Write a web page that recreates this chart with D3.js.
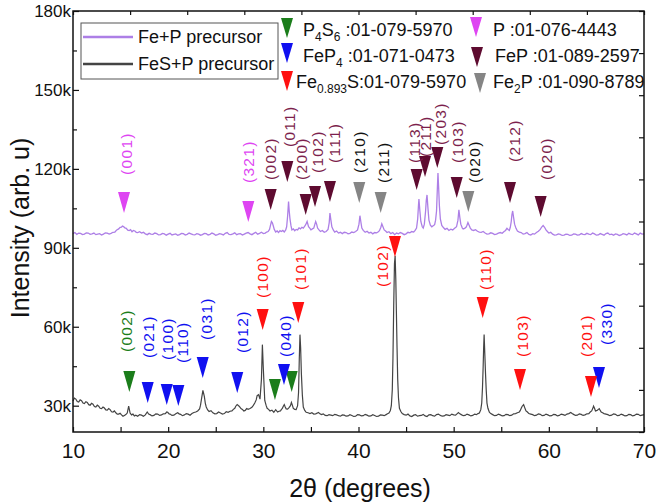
<!DOCTYPE html>
<html>
<head>
<meta charset="utf-8">
<script src="https://cdn.jsdelivr.net/npm/d3@7/dist/d3.min.js"></script>
<style>
  body { margin: 0; background: #fff; }
</style>
</head>
<body>
<div id="chart"></div>
<script>
// XRD patterns, 2theta (deg) vs intensity (in thousands of counts)
const fePCurve = [
  [10.0,95.4],[10.2,95.8],[10.4,95.1],[10.6,95.6],[10.8,95.5],[11.0,95.0],[11.2,95.2],[11.4,95.7],
  [11.6,95.6],[11.8,95.1],[12.0,95.3],[12.2,95.6],[12.4,95.0],[12.6,95.2],[12.8,95.4],[13.0,94.9],
  [13.2,95.2],[13.4,95.7],[13.6,95.6],[13.8,95.2],[14.0,95.5],[14.2,95.9],[14.4,96.0],[14.6,96.8],
  [14.8,97.2],[14.95,97.8],[15.1,97.9],[15.2,98.3],[15.3,98.1],[15.45,97.6],[15.6,97.4],[15.75,96.7],
  [15.9,96.6],[16.05,96.9],[16.2,96.1],[16.35,96.6],[16.5,96.4],[16.65,95.9],[16.8,95.8],[17.0,96.1],
  [17.2,95.6],[17.4,95.9],[17.6,95.3],[17.8,95.0],[18.0,95.5],[18.2,95.2],[18.4,95.1],[18.6,95.6],
  [18.8,95.4],[19.0,94.9],[19.2,95.0],[19.4,95.5],[19.6,95.3],[19.8,94.8],[20.0,95.2],[20.2,95.5],
  [20.4,94.9],[20.6,95.1],[20.8,95.3],[21.0,94.8],[21.2,95.0],[21.4,95.5],[21.6,95.4],[21.8,94.9],
  [22.0,95.1],[22.2,95.6],[22.4,95.3],[22.6,95.0],[22.8,94.9],[23.0,95.4],[23.2,95.2],[23.4,94.8],
  [23.6,95.0],[23.8,95.5],[24.0,95.4],[24.2,94.9],[24.4,95.1],[24.6,95.6],[24.8,95.3],[25.0,94.8],
  [25.2,95.0],[25.4,95.4],[25.6,95.2],[25.8,94.9],[26.0,95.5],[26.2,95.8],[26.4,95.1],[26.6,95.0],
  [26.8,95.3],[27.0,95.7],[27.2,95.0],[27.4,95.3],[27.6,95.4],[27.8,94.9],[28.0,95.2],[28.2,95.6],
  [28.4,95.8],[28.6,95.3],[28.8,95.0],[29.0,95.5],[29.2,95.9],[29.4,95.2],[29.6,95.5],[29.8,95.9],
  [30.0,95.4],[30.2,95.6],[30.35,96.0],[30.5,96.2],[30.65,97.0],[30.75,98.5],[30.85,100.0],[30.95,99.5],
  [31.05,98.3],[31.15,97.0],[31.3,96.0],[31.45,96.4],[31.6,95.8],[31.75,96.5],[31.9,96.2],[32.05,96.6],
  [32.2,96.0],[32.35,96.8],[32.45,98.0],[32.55,102.0],[32.65,107.6],[32.72,104.0],[32.8,101.0],[32.9,98.5],
  [33.0,96.8],[33.15,97.2],[33.3,96.5],[33.45,97.0],[33.6,96.8],[33.75,97.6],[33.9,97.2],[34.05,97.8],
  [34.2,97.5],[34.35,98.2],[34.45,98.8],[34.6,100.0],[34.75,98.0],[34.9,97.4],[35.0,96.8],[35.15,97.2],
  [35.3,97.5],[35.42,99.0],[35.5,100.0],[35.6,99.0],[35.7,97.5],[35.85,96.8],[36.0,96.2],[36.2,96.6],
  [36.4,95.9],[36.6,96.2],[36.8,97.0],[36.92,99.5],[37.0,103.2],[37.1,100.5],[37.2,98.0],[37.35,96.8],
  [37.5,96.0],[37.7,96.4],[37.9,95.6],[38.1,95.9],[38.3,95.4],[38.5,95.9],[38.7,95.8],[38.9,95.3],
  [39.1,95.5],[39.3,96.0],[39.5,95.8],[39.7,96.2],[39.9,96.8],[40.05,99.0],[40.15,102.2],[40.25,99.8],
  [40.35,97.5],[40.5,96.6],[40.7,95.9],[40.9,96.3],[41.1,95.6],[41.3,95.9],[41.5,95.3],[41.7,95.8],
  [41.9,95.7],[42.05,96.0],[42.2,96.5],[42.35,97.8],[42.45,99.1],[42.55,98.2],[42.7,96.8],[42.85,96.4],
  [43.0,95.8],[43.2,96.1],[43.4,95.4],[43.6,95.8],[43.8,95.0],[44.0,95.6],[44.2,95.3],[44.4,95.8],
  [44.6,95.5],[44.8,95.0],[45.0,95.3],[45.2,95.9],[45.4,95.7],[45.6,96.2],[45.8,96.0],[45.95,96.6],
  [46.1,97.5],[46.22,101.0],[46.3,106.0],[46.35,108.5],[46.45,104.0],[46.55,100.0],[46.7,98.0],[46.8,97.5],
  [46.92,99.0],[47.05,104.0],[47.12,108.0],[47.2,110.1],[47.3,105.0],[47.4,100.5],[47.55,98.6],[47.7,98.0],
  [47.85,98.4],[48.0,98.8],[48.1,100.5],[48.2,104.0],[48.28,112.0],[48.35,118.4],[48.42,113.0],[48.5,106.0],
  [48.6,101.0],[48.75,98.5],[48.9,97.8],[49.1,97.0],[49.3,97.4],[49.5,96.6],[49.7,97.1],[49.9,96.8],
  [50.1,97.4],[50.3,98.0],[50.45,100.5],[50.55,104.4],[50.65,101.5],[50.75,99.0],[50.9,97.6],[51.0,97.2],
  [51.15,97.4],[51.3,97.8],[51.4,98.6],[51.5,99.6],[51.6,98.8],[51.75,97.5],[51.9,96.8],[52.1,96.6],
  [52.3,96.9],[52.5,96.3],[52.7,96.0],[52.9,95.9],[53.1,96.2],[53.3,95.6],[53.5,95.2],[53.7,95.3],
  [53.9,95.7],[54.1,95.5],[54.3,95.0],[54.5,95.2],[54.7,95.6],[54.9,95.8],[55.1,95.5],[55.3,96.2],
  [55.45,96.6],[55.6,97.4],[55.72,97.0],[55.85,96.6],[55.95,97.8],[56.05,100.0],[56.12,102.5],[56.2,104.0],
  [56.3,101.5],[56.4,99.0],[56.55,97.4],[56.7,96.4],[56.9,96.0],[57.1,95.8],[57.3,95.2],[57.5,95.4],
  [57.7,95.8],[57.9,95.1],[58.1,94.9],[58.3,95.4],[58.5,95.2],[58.7,95.8],[58.9,96.3],[59.1,97.0],
  [59.25,97.9],[59.4,98.5],[59.55,97.8],[59.7,96.8],[59.85,96.2],[60.0,95.6],[60.2,95.9],[60.4,95.2],
  [60.6,94.8],[60.8,94.9],[61.0,95.3],[61.2,95.1],[61.4,94.7],[61.6,94.8],[61.8,95.2],[62.0,95.1],
  [62.2,94.7],[62.4,94.8],[62.6,95.3],[62.8,95.2],[63.0,94.8],[63.2,94.9],[63.4,95.4],[63.6,95.1],
  [63.8,95.0],[64.0,95.5],[64.2,95.2],[64.4,95.0],[64.6,95.6],[64.8,95.3],[65.0,94.8],[65.2,94.9],
  [65.4,95.4],[65.6,95.1],[65.8,94.8],[66.0,95.4],[66.2,95.6],[66.4,95.0],[66.6,95.2],[66.8,94.8],
  [67.0,95.3],[67.2,95.1],[67.4,94.7],[67.6,94.9],[67.8,95.4],[68.0,95.2],[68.2,94.9],[68.4,95.5],
  [68.6,95.2],[68.8,95.0],[69.0,95.6],[69.2,95.3],[69.4,94.9],[69.6,95.6],[69.8,95.2],[70.0,95.3]
];

const fesPCurve = [
  [10.0,31.8],[10.15,32.9],[10.3,32.5],[10.45,31.6],[10.6,31.4],[10.75,32.2],[10.9,31.9],[11.05,31.0],
  [11.2,30.8],[11.35,31.5],[11.5,31.2],[11.65,30.4],[11.8,30.2],[11.95,30.9],[12.1,30.6],[12.25,29.7],
  [12.4,29.5],[12.55,30.2],[12.7,29.8],[12.85,29.0],[13.0,28.9],[13.15,29.5],[13.3,29.1],[13.45,28.4],
  [13.6,28.3],[13.75,28.9],[13.9,28.5],[14.05,27.7],[14.2,27.6],[14.35,28.0],[14.5,27.3],[14.65,26.8],
  [14.8,26.8],[14.95,27.1],[15.1,26.5],[15.25,26.0],[15.4,26.3],[15.55,26.6],[15.7,27.2],[15.85,29.8],
  [16.0,27.2],[16.15,26.5],[16.3,26.8],[16.45,26.1],[16.6,26.4],[16.8,26.0],[17.0,26.6],[17.2,26.4],
  [17.4,26.0],[17.6,26.5],[17.8,27.6],[17.95,26.8],[18.1,26.6],[18.3,26.1],[18.5,26.3],[18.7,26.9],
  [18.9,26.8],[19.1,26.3],[19.3,26.5],[19.5,26.9],[19.7,27.0],[19.85,27.6],[19.95,27.5],[20.1,26.9],
  [20.2,26.8],[20.4,26.3],[20.6,26.4],[20.8,26.9],[21.0,27.3],[21.15,26.9],[21.3,26.7],[21.5,26.2],
  [21.7,26.5],[21.9,27.0],[22.1,26.8],[22.3,26.4],[22.5,27.0],[22.7,27.4],[22.9,27.6],[23.1,28.0],
  [23.3,28.8],[23.4,30.2],[23.5,32.5],[23.65,35.8],[23.8,33.5],[23.9,31.0],[24.0,29.5],[24.15,28.4],
  [24.3,27.8],[24.5,28.1],[24.7,27.3],[24.9,26.9],[25.1,27.0],[25.3,27.6],[25.5,27.2],[25.7,26.8],
  [25.9,27.0],[26.1,27.7],[26.3,27.5],[26.5,27.9],[26.7,28.0],[26.85,28.6],[27.0,29.0],[27.1,29.8],
  [27.25,30.4],[27.4,30.0],[27.5,29.6],[27.65,28.9],[27.8,28.6],[27.95,28.0],[28.1,28.2],[28.25,28.9],
  [28.4,28.6],[28.6,28.9],[28.8,29.4],[28.95,30.1],[29.1,31.0],[29.25,32.2],[29.35,33.8],[29.5,34.2],
  [29.65,32.5],[29.8,40.0],[29.9,53.2],[30.0,44.0],[30.15,32.0],[30.3,30.0],[30.4,29.0],[30.55,28.6],
  [30.7,28.0],[30.9,28.3],[31.1,27.5],[31.3,28.5],[31.5,27.6],[31.65,27.9],[31.8,28.0],[31.9,28.6],
  [32.0,29.0],[32.1,29.8],[32.2,30.4],[32.3,29.5],[32.4,28.8],[32.55,28.7],[32.7,29.3],[32.85,30.0],
  [32.95,31.2],[33.05,30.2],[33.15,29.0],[33.3,28.6],[33.45,28.5],[33.6,30.0],[33.7,35.0],[33.78,48.0],
  [33.85,57.0],[33.92,52.0],[34.0,42.0],[34.1,34.0],[34.2,29.5],[34.35,28.2],[34.5,27.5],[34.7,27.3],
  [34.9,27.0],[35.1,27.3],[35.3,26.8],[35.5,26.9],[35.8,27.4],[35.95,26.9],[36.1,26.6],[36.3,26.9],
  [36.5,26.3],[36.7,26.2],[36.9,26.6],[37.1,26.4],[37.3,26.2],[37.5,26.7],[37.7,26.5],[37.9,26.2],
  [38.1,26.0],[38.3,26.5],[38.5,26.4],[38.7,26.0],[38.9,26.1],[39.1,26.6],[39.3,26.3],[39.5,25.9],
  [39.7,26.0],[39.9,26.6],[40.1,26.5],[40.3,26.1],[40.5,26.2],[40.7,26.7],[40.9,26.4],[41.1,26.0],
  [41.3,26.1],[41.5,26.6],[41.7,26.3],[41.9,25.9],[42.1,26.0],[42.3,26.5],[42.5,26.4],[42.7,26.2],
  [42.9,26.6],[43.05,26.9],[43.2,27.2],[43.35,28.2],[43.45,30.0],[43.55,36.0],[43.62,48.0],[43.7,68.0],
  [43.78,84.0],[43.85,87.0],[43.92,78.0],[43.98,66.0],[44.05,52.0],[44.12,40.0],[44.2,33.0],[44.3,29.0],
  [44.45,27.8],[44.6,27.0],[44.8,26.6],[45.0,26.4],[45.2,26.8],[45.4,26.1],[45.6,25.9],[45.8,26.4],
  [46.0,26.6],[46.2,26.0],[46.4,26.2],[46.6,26.3],[46.8,26.7],[47.0,26.1],[47.2,25.9],[47.4,26.5],
  [47.6,26.6],[47.8,26.2],[48.0,26.0],[48.2,26.6],[48.4,26.8],[48.6,26.3],[48.8,26.0],[49.0,26.1],
  [49.2,26.6],[49.4,26.4],[49.6,26.2],[49.8,26.8],[50.0,26.5],[50.2,26.4],[50.35,26.9],[50.5,27.4],
  [50.65,26.9],[50.8,26.6],[51.0,26.2],[51.2,26.3],[51.4,26.8],[51.6,26.5],[51.8,26.1],[52.0,26.3],
  [52.2,26.8],[52.4,26.6],[52.55,27.0],[52.7,27.2],[52.85,28.5],[52.95,31.0],[53.03,37.0],[53.1,45.0],
  [53.15,52.0],[53.2,57.0],[53.27,50.0],[53.35,42.0],[53.42,36.0],[53.5,31.0],[53.6,29.0],[53.75,27.5],
  [53.9,27.0],[54.1,26.6],[54.3,26.2],[54.5,26.3],[54.7,26.8],[54.9,26.5],[55.1,26.1],[55.3,26.2],
  [55.5,26.7],[55.7,26.6],[55.9,26.2],[56.1,26.4],[56.3,26.9],[56.5,27.0],[56.7,27.3],[56.9,27.6],
  [57.0,28.2],[57.1,29.0],[57.2,29.8],[57.35,30.4],[57.45,29.4],[57.6,28.0],[57.75,27.6],[57.9,27.0],
  [58.1,26.8],[58.3,26.6],[58.5,26.2],[58.7,26.4],[58.9,26.9],[59.1,26.7],[59.3,26.2],[59.5,26.3],
  [59.7,26.8],[59.9,26.5],[60.1,26.1],[60.3,26.2],[60.5,26.7],[60.7,26.6],[60.9,26.1],[61.1,26.3],
  [61.3,26.8],[61.5,26.6],[61.7,26.3],[61.9,26.8],[62.1,27.0],[62.3,27.4],[62.45,27.0],[62.6,26.7],
  [62.8,26.3],[63.0,26.4],[63.2,26.9],[63.4,26.7],[63.6,26.3],[63.8,26.5],[64.0,26.9],[64.2,27.0],
  [64.35,27.6],[64.5,28.0],[64.6,28.8],[64.7,29.8],[64.8,29.0],[64.9,28.0],[65.0,28.1],[65.1,28.3],
  [65.2,28.6],[65.3,28.9],[65.4,28.2],[65.5,27.6],[65.65,27.3],[65.8,27.0],[66.0,26.8],[66.2,26.6],
  [66.4,26.2],[66.6,26.4],[66.8,26.9],[67.0,26.7],[67.2,26.2],[67.4,26.3],[67.6,26.8],[67.8,26.5],
  [68.0,26.1],[68.2,26.2],[68.4,26.7],[68.6,26.6],[68.8,26.1],[69.0,26.3],[69.2,26.8],[69.4,26.7],
  [69.6,26.2],[69.8,26.4],[70.0,26.6]
];

// peak markers: [2theta, tip intensity, label, label 2theta, label bottom intensity]
const pMarks = [[15.36,103.2,"(001)",15.57,117.7],[28.42,99.8,"(321)",28.42,114.6]];
const fePMarks = [
  [30.77,104.4,"(002)",30.77,115.8],[32.52,115.0,"(011)",32.73,128.3],[34.45,102.5,"(200)",33.96,115.8],
  [35.43,105.5,"(102)",35.67,118.4],[37.0,107.4,"(111)",37.42,122.2],[46.11,112.0,"(113)",45.83,122.2],
  [46.99,116.9,"(211)",46.99,124.5],[48.28,120.3,"(203)",48.63,129.1],[50.32,108.9,"(103)",50.42,122.2],
  [55.92,107.0,"(212)",56.34,122.6],[59.14,101.7,"(020)",59.77,115.8]
];
const fe2PMarks = [[40.08,107.0,"(210)",40.08,118.4],[42.33,103.2,"(211)",42.6,114.6],[51.54,103.6,"(020)",52.14,114.6]];
const p4s6Marks = [[15.92,35.2,"(002)",15.64,50.4],[31.22,32.2,"",0,0],[32.98,35.2,"",0,0]];
const fePMarks4 = [
  [17.85,31.0,"(021)",17.91,48.1],[19.85,30.3,"(100)",19.91,47.4],[21.07,29.9,"(110)",21.53,46.2],
  [23.63,40.5,"(031)",23.97,55.0],[27.26,34.8,"(012)",27.79,50.0],[32.17,37.9,"(040)",32.28,48.5],
  [65.27,36.7,"(330)",66.1,53.1]
];
const fesMarks = [
  [29.93,58.8,"(100)",29.93,70.9],[33.67,61.4,"(101)",33.85,74.0],[43.83,86.5,"(102)",42.47,75.1],
  [53.05,63.3,"(110)",53.29,74.0],[56.97,36.0,"(103)",57.18,48.5],[64.43,33.3,"(201)",64.0,48.5]
];

const xTicks = [10, 20, 30, 40, 50, 60, 70];
const yTicks = [30, 60, 90, 120, 150, 180];
const seriesNames = ["Fe+P precursor", "FeS+P precursor"];

const W = 661, H = 503;
const mLeft = 73, mRight = 644, mTop = 11, mBottom = 432;
const FONT = "'Liberation Sans', Arial, sans-serif";

const svg = d3.select("#chart").append("svg").attr("width", W).attr("height", H)
  .attr("font-family", FONT);

const x = d3.scaleLinear().domain([10, 70]).range([mLeft, mRight]);
const y = d3.scaleLinear().domain([20, 180]).range([mBottom, mTop]);

// curves
const line = d3.line().x(d => x(d[0])).y(d => y(d[1]));
svg.append("path").datum(fePCurve).attr("d", line)
   .attr("fill", "none").attr("stroke", "#ad7fe6").attr("stroke-width", 1.3);
svg.append("path").datum(fesPCurve).attr("d", line)
   .attr("fill", "none").attr("stroke", "#444").attr("stroke-width", 1.2);

// axes
const gx = svg.append("g").attr("transform", `translate(0,${mBottom})`)
  .call(d3.axisBottom(x).tickValues(d3.range(10, 71, 5)).tickSize(-5)
    .tickFormat(d => xTicks.includes(d) ? d : ""));
gx.selectAll("text").attr("font-size", 21).attr("y", 3).attr("dy", "1.1em")
  .attr("font-family", FONT).attr("fill", "#111");

const gy = svg.append("g").attr("transform", `translate(${mLeft},0)`)
  .call(d3.axisLeft(y).tickValues(d3.range(30, 181, 15)).tickSize(-6)
    .tickFormat(d => yTicks.includes(d) ? d + "k" : ""));
gy.selectAll("text").attr("font-size", 17).attr("x", -2)
  .attr("font-family", FONT).attr("fill", "#111");
gy.selectAll(".tick line").filter(d => !yTicks.includes(d)).attr("x2", 4);

// top and right axes with 10 divisions
const xt = d3.scaleLinear().domain([0, 10]).range([mLeft, mRight]);
const yr = d3.scaleLinear().domain([0, 10]).range([mBottom, mTop]);
svg.append("g").attr("transform", `translate(0,${mTop})`)
  .call(d3.axisTop(xt).ticks(10).tickSize(-4).tickFormat(""));
svg.append("g").attr("transform", `translate(${mRight},0)`)
  .call(d3.axisRight(yr).ticks(10).tickSize(-5).tickFormat(""));
svg.selectAll(".domain").remove();
svg.selectAll(".tick line").attr("stroke", "#111").attr("stroke-width", 1.2);
svg.append("rect").attr("x", mLeft).attr("y", mTop).attr("width", mRight - mLeft).attr("height", mBottom - mTop)
   .attr("fill", "none").attr("stroke", "#111").attr("stroke-width", 1.5);

// triangles and labels
const tri = (cx, cy) => `M${cx - 6},${cy - 21}L${cx + 6},${cy - 21}L${cx},${cy}Z`;
function drawMarks(marks, fill, labelColor) {
  const g = svg.append("g");
  g.selectAll("path").data(marks).join("path")
    .attr("d", d => tri(x(d[0]), y(d[1]))).attr("fill", fill);
  g.selectAll("text").data(marks.filter(d => d[2])).join("text")
    .attr("transform", d => `translate(${x(d[3])},${y(d[4])}) rotate(-90)`)
    .attr("dy", "0.36em").attr("font-size", 15.5).attr("letter-spacing", 1.3)
    .attr("fill", labelColor).text(d => d[2]);
}
drawMarks(pMarks, "#de45f2", "#de45f2");
drawMarks(fePMarks, "#5e0b30", "#7d1f4d");
drawMarks(fe2PMarks, "#858585", "#111");
drawMarks(p4s6Marks, "#1b7d1b", "#1b7d1b");
drawMarks(fePMarks4, "#1010f0", "#1010f0");
drawMarks(fesMarks, "#ff1010", "#ff1010");

// series legend
const lg = svg.append("g");
lg.append("rect").attr("x", 81).attr("y", 23).attr("width", 197).attr("height", 56)
  .attr("fill", "#fff").attr("stroke", "#555").attr("stroke-width", 1);
[["#ad7fe6", 37], ["#444", 64]].forEach(([c, ly], i) => {
  lg.append("line").attr("x1", 83).attr("x2", 133).attr("y1", ly).attr("y2", ly)
    .attr("stroke", c).attr("stroke-width", 2.5);
  lg.append("text").attr("x", 138).attr("y", ly + 6).attr("font-size", 18)
    .attr("fill", "#111").text(seriesNames[i]);
});

// phase legend
const phaseLegend = [
  {c: "#1b7d1b", tx: 287, ty: 38, parts: [["P"], ["4", 1], ["S"], ["6", 1], [" :01-079-5970"]]},
  {c: "#1010f0", tx: 287, ty: 63, parts: [["FeP"], ["4", 1], [" :01-071-0473"]]},
  {c: "#ff1010", tx: 287, ty: 91, parts: [["Fe"], ["0.893", 1], ["S:01-079-5970"]]},
  {c: "#de45f2", tx: 476, ty: 37, parts: [["P :01-076-4443"]]},
  {c: "#5e0b30", tx: 477, ty: 67, parts: [["FeP :01-089-2597"]]},
  {c: "#858585", tx: 480, ty: 93, parts: [["Fe"], ["2", 1], ["P :01-090-8789"]]}
];
const textX = [303, 303, 296, 493, 495, 493];
const textY = [36, 62, 88, 36, 62, 88];
phaseLegend.forEach((p, i) => {
  svg.append("path").attr("d", `M${p.tx - 6},${p.ty - 20}L${p.tx + 6},${p.ty - 20}L${p.tx},${p.ty}Z`)
    .attr("fill", p.c);
  const t = svg.append("text").attr("x", textX[i]).attr("y", textY[i]).attr("font-size", 18).attr("fill", "#111");
  let sub = false;
  p.parts.forEach(([s, isSub]) => {
    const ts = t.append("tspan").text(s);
    if (isSub && !sub) { ts.attr("font-size", 12).attr("dy", 5); sub = true; }
    else if (!isSub && sub) { ts.attr("dy", -5); sub = false; }
  });
});

// axis titles
svg.append("text").attr("x", 360).attr("y", 497).attr("text-anchor", "middle")
  .attr("font-size", 25).attr("fill", "#111").text("2θ (degrees)");
svg.append("text").attr("transform", "translate(29,228) rotate(-90)")
  .attr("text-anchor", "middle").attr("font-size", 25).attr("fill", "#111").text("Intensity (arb. u)");
</script>
</body>
</html>
